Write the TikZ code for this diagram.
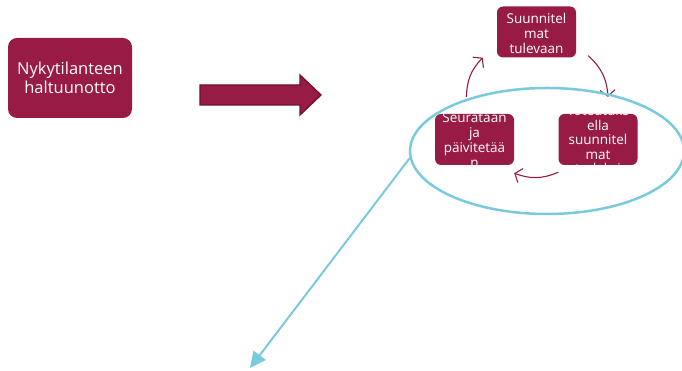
\documentclass[tikz,border=0pt]{standalone}
\usepackage{fontspec}
\setmainfont{Open Sans}
\usetikzlibrary{arrows.meta}
\usetikzlibrary{shapes.geometric}
\definecolor{viini}{RGB}{152,27,69}
\definecolor{viinitumma}{RGB}{110,18,50}
\definecolor{sininen}{RGB}{122,202,222}
\tikzset{
  isolaatikko/.style={fill=viini, rounded corners=9pt, minimum width=124pt, minimum height=80pt, text=white, align=center, font=\fontsize{16.5}{18.5}\selectfont},
  pikkulaatikko/.style={fill=viini, rounded corners=6pt, minimum width=79pt, minimum height=51pt},
  laatikkoteksti/.style={text=white, align=center, font=\fontsize{13.5}{15}\selectfont},
  kierto/.style={viini, line width=1.1pt, -{Straight Barb[length=6pt,width=15pt]}, bend left=22},
}

\begin{document}
\begin{tikzpicture}[x=1pt, y=1pt]
      \useasboundingbox (0, 0) rectangle (682, 371);
      \node[isolaatikko] (nykytila) at (70, 293) {Nykytilanteen\\haltuunotto};
      \draw[fill=viini, draw=viinitumma, line width=1.3pt] (200, 286) -- (300, 286) -- (300, 296) -- (321, 276) -- (300, 256) -- (300, 266) -- (200, 266) -- cycle;
      \node[pikkulaatikko, path picture={\node[laatikkoteksti] at ([yshift=-1pt]path picture bounding box.center) {Suunnitel\\mat\\tulevaan};}] (suunnittelu) at (536.5, 339) {};
      \node[pikkulaatikko, path picture={\node[laatikkoteksti, font=\fontsize{13.5}{14.5}\selectfont] at (path picture bounding box.center) {Toteutuks\\ella\\suunnitel\\mat\\todeksi};}] (toteutus) at (598, 231.5) {};
      \node[pikkulaatikko, path picture={\node[laatikkoteksti] at ([yshift=-1pt]path picture bounding box.center) {Seurataan\\ja\\päivitetää\\n};}] (seuranta) at (474.5, 231.5) {};
      \draw[kierto] ([xshift=-8pt, yshift=17pt]seuranta.north) to ([xshift=-14pt]suunnittelu.south west);
      \draw[kierto] ([xshift=12pt, yshift=2pt]suunnittelu.south east) to ([xshift=10pt, yshift=17pt]toteutus.north);
      \draw[kierto] ([yshift=-7pt]toteutus.south west) to ([yshift=-8pt]seuranta.south east);
      \node[ellipse, draw=sininen, line width=2.5pt, inner sep=0pt, minimum width=274pt, minimum height=126pt] (fokus) at (547, 220) {};
      \coordinate (karki) at (250, 3);
      \draw[sininen, line width=2pt, -{Triangle[length=16pt, width=15pt]}] (fokus.183) -- (karki);
    \end{tikzpicture}
\end{document}
